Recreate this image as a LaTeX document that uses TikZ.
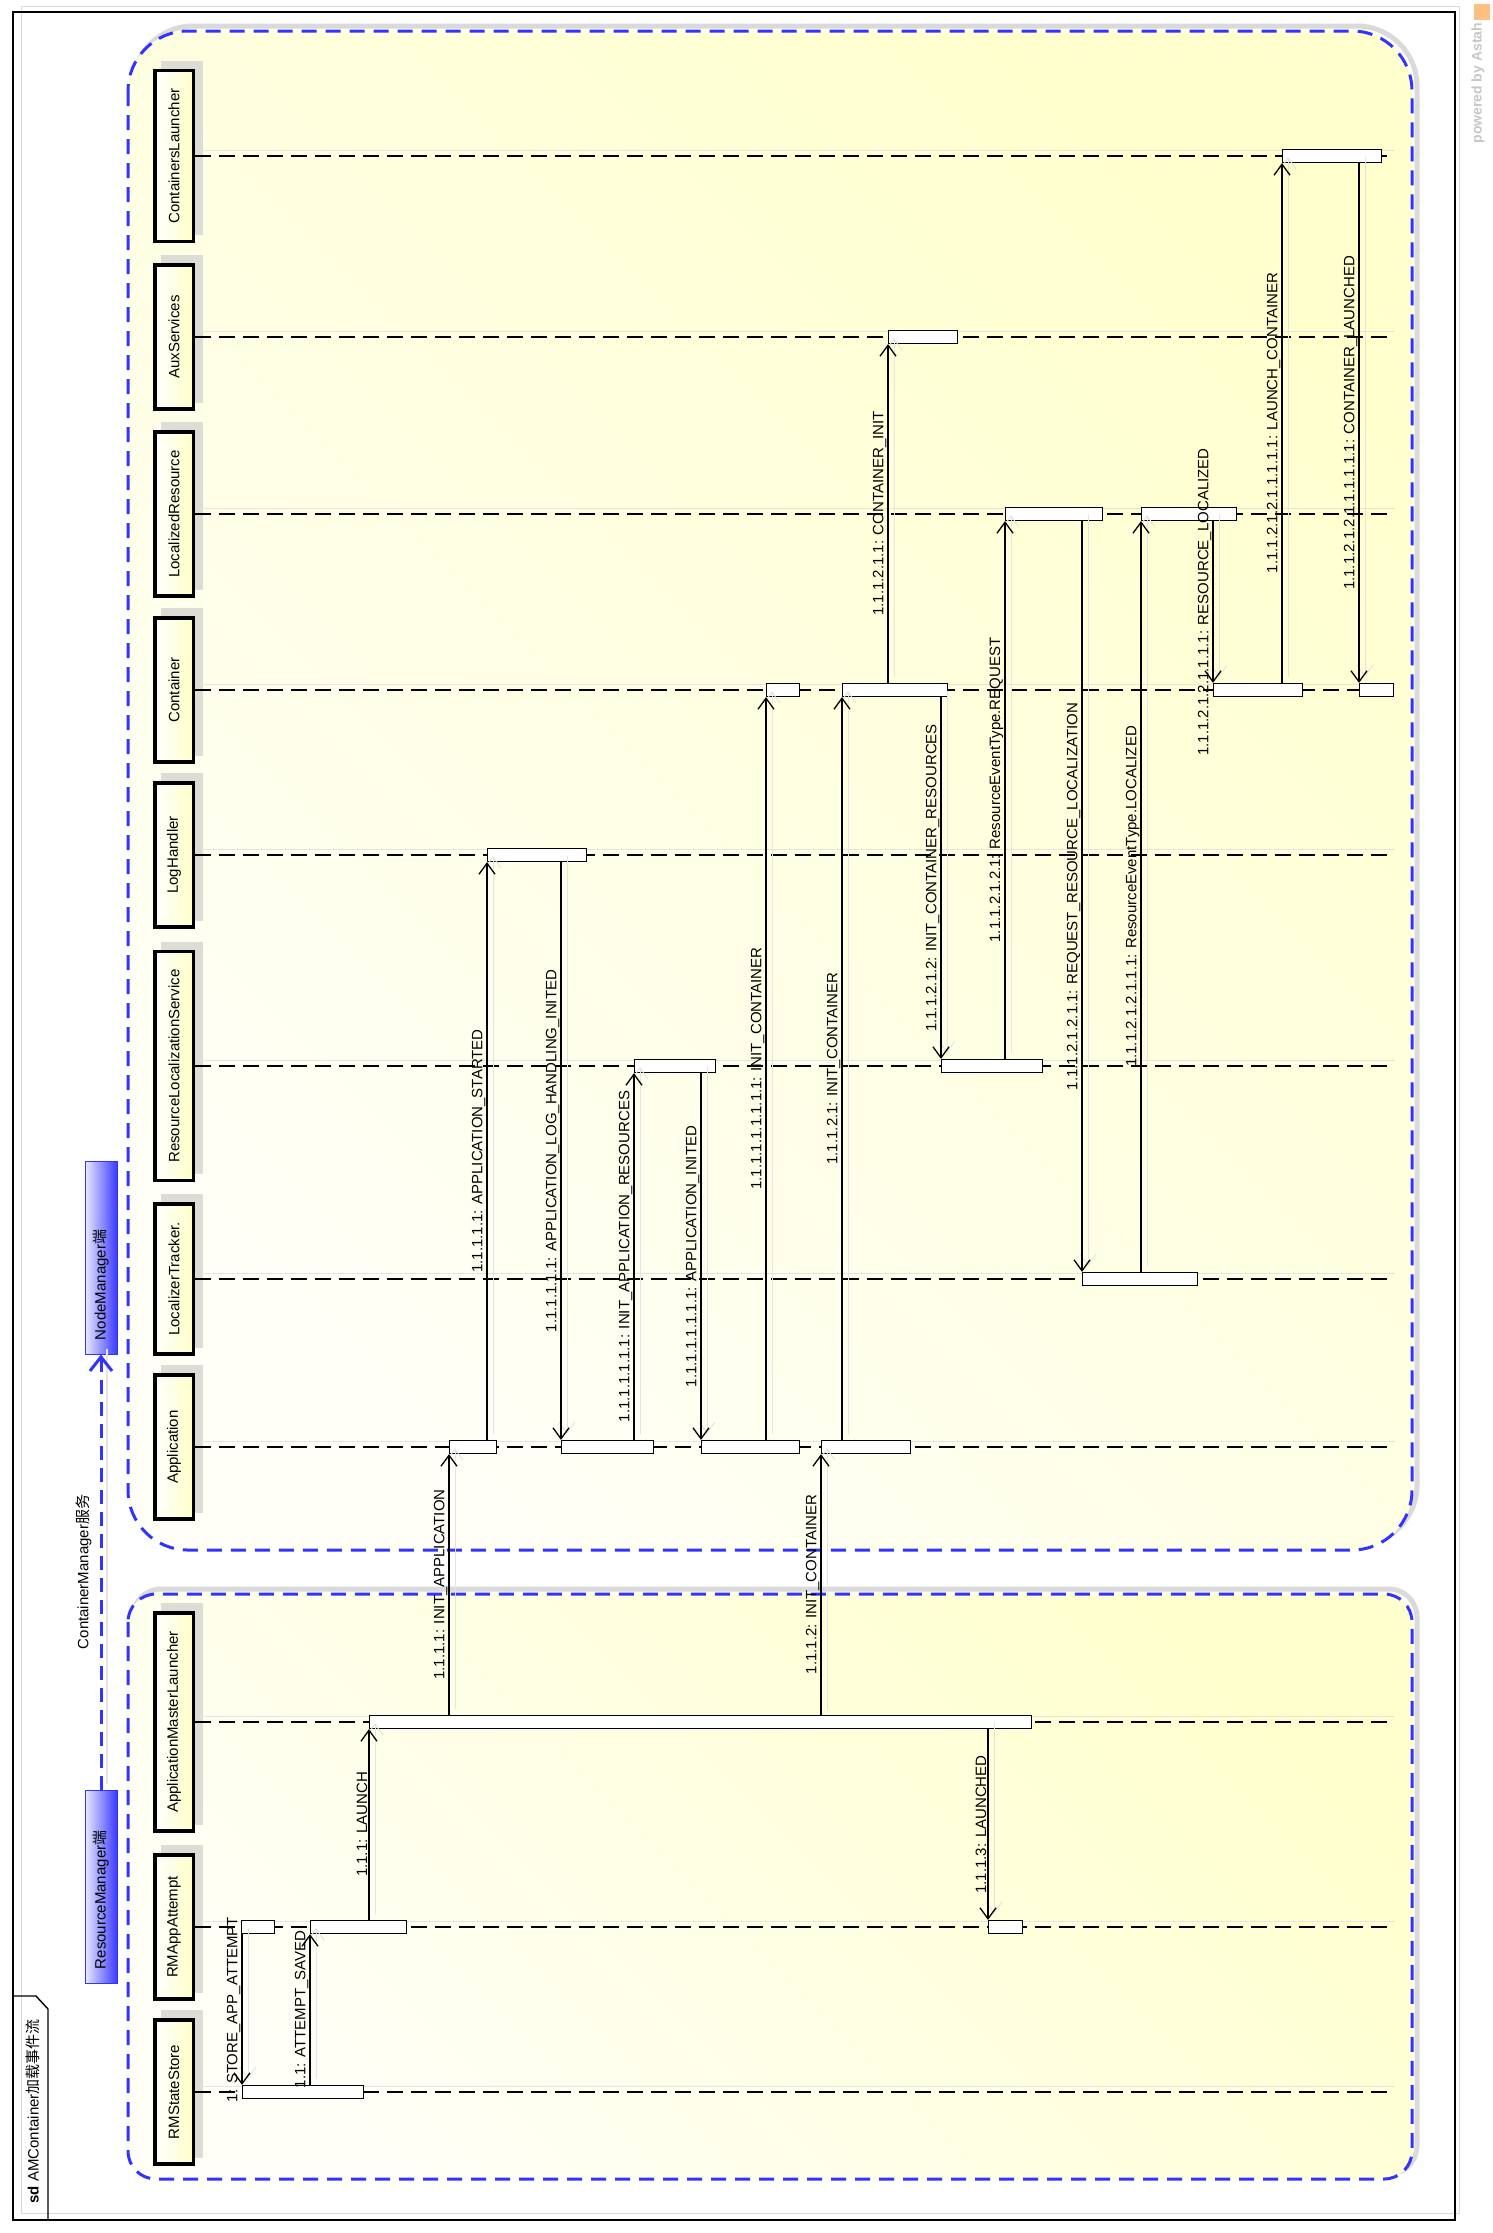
\documentclass[tikz,border=0pt]{standalone}
\usepackage{fontspec}
\setmainfont{Liberation Sans}
\newfontfamily\cjk{Noto Sans CJK SC}
\usetikzlibrary{arrows.meta}

\definecolor{partblue}{RGB}{51,51,255}
\definecolor{partyellow}{RGB}{255,255,206}
\definecolor{partwhite}{RGB}{255,255,247}
\definecolor{headyellow}{RGB}{255,255,200}
\definecolor{headshade}{RGB}{221,221,213}
\definecolor{shadowgray}{RGB}{218,218,218}
\definecolor{lightshadow}{RGB}{228,228,228}
\definecolor{tagblue}{RGB}{58,58,255}
\definecolor{taglight}{RGB}{234,234,255}

\pgfdeclarelayer{bg}
\pgfsetlayers{bg,main}

\newcommand{\lblfont}{\fontsize{15}{18}\selectfont}

% message going up / down: source bar, target bar, label
\newcommand{\msgup}[3]{%
  \draw[msgshadow] (#1.north -| #2.south west) -- (#2.south west);
  \draw[msg] (#1.north -| #2.south west) -- node[lbl] {#3} (#2.south west);}
\newcommand{\msgdown}[3]{%
  \draw[msgshadow] (#1.south -| #2.north west) -- (#2.north west);
  \draw[msg] (#1.south -| #2.north west) -- node[lbl] {#3} (#2.north west);}

\tikzset{
  lifeline/.style={dash pattern=on 16pt off 8pt, line width=1.3pt},
  lifeshadow/.style={lightshadow, line width=1pt},
  head/.style={draw, line width=3.5pt, rotate=90, left color=white, right color=headyellow,
    minimum width=144pt, minimum height=38.5pt, inner xsep=18pt, font=\lblfont},
  act/.style={draw, fill=white, line width=1.2pt, minimum height=13pt, inner sep=0pt, anchor=west},
  msg/.style={line width=1.3pt, -{Straight Barb[length=11pt, width=16pt, line width=1.3pt]}},
  msgshadow/.style={line width=1pt, lightshadow, -{Straight Barb[length=11pt, width=16pt, line width=1pt]},
    transform canvas={shift={(6pt,6pt)}}},
  lbl/.style={rotate=90, anchor=south, inner xsep=0pt, inner ysep=1pt, font=\lblfont},
  partline/.style={draw=partblue, line width=3pt, dash pattern=on 15pt off 9pt},
  partfill/.style={top color=partyellow, bottom color=partwhite, shading angle=-45},
  partshadow/.style={draw=shadowgray, line width=5pt},
  tag/.style={draw=partblue, line width=1pt, rotate=90, left color=taglight, right color=tagblue,
    minimum height=32pt, text width=165pt, inner xsep=14pt, align=left, font=\lblfont},
  tagarrow/.style={draw=partblue, line width=3pt, dash pattern=on 14pt off 8pt,
    -{Straight Barb[length=14pt, width=22pt, line width=3pt]}}
}

\begin{document}
\begin{tikzpicture}[x=1pt,y=-1pt]
\useasboundingbox (0,0) rectangle (1493,2233);

\begin{pgfonlayer}{bg}
\fill[white] (0,0) rectangle (1493,2233);
% NodeManager partition
\draw[partshadow, rounded corners=60pt] (133,26) rectangle (1417,1545);
\shade[partfill, rounded corners=60pt] (128,31) rectangle (1412,1550);
\draw[partline, rounded corners=60pt] (128,31) rectangle (1412,1550);
% ResourceManager partition
\draw[partshadow, rounded corners=28pt] (133,1589) rectangle (1417,2174);
\shade[partfill, rounded corners=28pt] (128,1594) rectangle (1412,2179);
\draw[partline, rounded corners=28pt] (128,1594) rectangle (1412,2179);
\end{pgfonlayer}

% frame
\draw[shadowgray, line width=1pt] (21,6) rectangle (1459,2213);
\draw[line width=1.4pt] (13,12) rectangle (1455,2220);
\draw[line width=1.4pt] (13,1996) -- (36,1996) -- (48,2009) -- (48,2220);
\node[rotate=90, anchor=west, font=\lblfont] (sdlabel) at (33,2207)
  {\textbf{sd} AMContainer{\cjk 加载事件流}};

% watermark
\fill[orange!50] (1474,4) rectangle (1490,20);
\node[rotate=90, anchor=west, text=black!22, font=\bfseries\fontsize{14}{16}\selectfont]
  (astah) at (1478,147) {powered by Astah};

% partition tags
\node[tag] (nmTag) at (101,1257.5) {NodeManager{\cjk 端}};
\node[tag] (rmTag) at (101,1886.5) {ResourceManager{\cjk 端}};
\draw[lightshadow, line width=1.5pt, transform canvas={shift={(6pt,6pt)}}] (rmTag.east) -- (nmTag.west);
\draw[tagarrow] (rmTag.east) -- node[lbl, inner ysep=8pt] {ContainerManager{\cjk 服务}} (nmTag.west);

% lifelines
\foreach \nm/\txt/\yy in {CL/ContainersLauncher/156, AX/AuxServices/337,
    LR/LocalizedResource/514, CT/Container/690, LH/LogHandler/855,
    RL/ResourceLocalizationService/1066, LT/LocalizerTracker./1279,
    AP/Application/1447, AM/ApplicationMasterLauncher/1722,
    RA/RMAppAttempt/1927, SS/RMStateStore/2092}{
  \node[head] (h\nm) at (174,\yy) {\txt};
  \begin{pgfonlayer}{bg}
    \fill[headshade] ([shift={(8,-8)}]h\nm.south west) rectangle ([shift={(8,-8)}]h\nm.north east);
  \end{pgfonlayer}
  \coordinate (e\nm) at (1388,\yy);
  \draw[lifeshadow] (200,\yy-6) -- (1395,\yy-6);
  \draw[lifeline] (h\nm.south) -- (e\nm);
}

% activations, ResourceManager side
\node[act, minimum width=33pt] (att1) at (241,1927) {};
\node[act, minimum width=121pt] (store1) at (242,2092) {};
\node[act, minimum width=96pt] (att2) at (310,1927) {};
\node[act, minimum width=662pt] (aml1) at (369,1722) {};
\node[act, minimum width=34pt] (att3) at (988,1927) {};

% activations, NodeManager side
\node[act, minimum width=47pt] (app1) at (449,1447) {};
\node[act, minimum width=92pt] (app2) at (561,1447) {};
\node[act, minimum width=98pt] (app3) at (701,1447) {};
\node[act, minimum width=89pt] (app4) at (821,1447) {};
\node[act, minimum width=99pt] (log1) at (487,855) {};
\node[act, minimum width=81pt] (rls1) at (634,1066) {};
\node[act, minimum width=101pt] (rls2) at (941,1066) {};
\node[act, minimum width=33pt] (cnt1) at (766,690) {};
\node[act, minimum width=105pt] (cnt2) at (842,690) {};
\node[act, minimum width=89pt] (cnt3) at (1213,690) {};
\node[act, minimum width=34pt] (cnt4) at (1359,690) {};
\node[act, minimum width=69pt] (aux1) at (888,337) {};
\node[act, minimum width=97pt] (lres1) at (1005,514) {};
\node[act, minimum width=95pt] (lres2) at (1141,514) {};
\node[act, minimum width=115pt] (ltr1) at (1082,1279) {};
\node[act, minimum width=99pt] (cl1) at (1282,156) {};

% messages
\msgdown{att1}{store1}{1: STORE\_APP\_ATTEMPT}
\msgup{store1}{att2}{1.1: ATTEMPT\_SAVED}
\msgup{att2}{aml1}{1.1.1: LAUNCH}
\msgup{aml1}{app1}{1.1.1.1: INIT\_APPLICATION}
\msgup{app1}{log1}{1.1.1.1.1: APPLICATION\_STARTED}
\msgdown{log1}{app2}{1.1.1.1.1.1: APPLICATION\_LOG\_HANDLING\_INITED}
\msgup{app2}{rls1}{1.1.1.1.1.1.1: INIT\_APPLICATION\_RESOURCES}
\msgdown{rls1}{app3}{1.1.1.1.1.1.1.1: APPLICATION\_INITED}
\msgup{app3}{cnt1}{1.1.1.1.1.1.1.1.1: INIT\_CONTAINER}
\msgup{aml1}{app4}{1.1.1.2: INIT\_CONTAINER}
\msgup{app4}{cnt2}{1.1.1.2.1: INIT\_CONTAINER}
\msgup{cnt2}{aux1}{1.1.1.2.1.1: CONTAINER\_INIT}
\msgdown{cnt2}{rls2}{1.1.1.2.1.2: INIT\_CONTAINER\_RESOURCES}
\msgup{rls2}{lres1}{1.1.1.2.1.2.1: ResourceEventType.REQUEST}
\msgdown{lres1}{ltr1}{1.1.1.2.1.2.1.1: REQUEST\_RESOURCE\_LOCALIZATION}
\msgup{ltr1}{lres2}{1.1.1.2.1.2.1.1.1: ResourceEventType.LOCALIZED}
\msgdown{lres2}{cnt3}{1.1.1.2.1.2.1.1.1.1: RESOURCE\_LOCALIZED}
\msgup{cnt3}{cl1}{1.1.1.2.1.2.1.1.1.1.1: LAUNCH\_CONTAINER}
\msgdown{cl1}{cnt4}{1.1.1.2.1.2.1.1.1.1.1.1: CONTAINER\_LAUNCHED}
\msgdown{aml1}{att3}{1.1.1.3: LAUNCHED}
\end{tikzpicture}
\end{document}
